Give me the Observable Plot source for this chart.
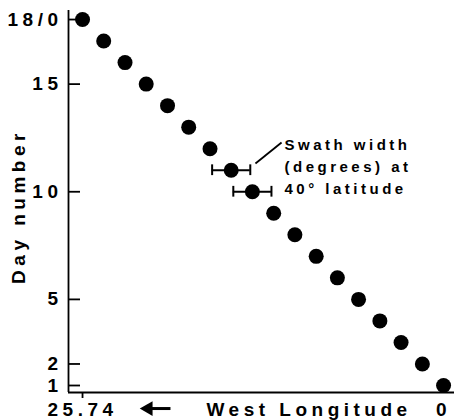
<!DOCTYPE html>
<html>
<head>
<meta charset="utf-8">
<script src="https://cdn.jsdelivr.net/npm/d3@7"></script>
<script src="https://cdn.jsdelivr.net/npm/@observablehq/plot@0.6"></script>
<style>
  html, body { margin: 0; padding: 0; background: #fff; }
</style>
</head>
<body>
<div id="chart"></div>
<script>
const days = [18, 17, 16, 15, 14, 13, 12, 11, 10, 9, 8, 7, 6, 5, 4, 3, 2, 1];
const longitudes = [25.74, 24.23, 22.71, 21.20, 19.68, 18.17, 16.65, 15.14, 13.63, 12.11, 10.60, 9.08, 7.57, 6.06, 4.54, 3.03, 1.51, 0];
const swathDays = [11, 10];
const swathLongitudes = [15.14, 13.63];
const swathHalfWidths = [1.36, 1.36];
const yTicks = [1, 2, 5, 10, 15, 18];
const yTickLabels = ["1", "2", "5", "10", "15", "18/0"];
const xTicks = [25.74, 0];
const xTickLabels = ["25.74", "0"];
const yLabel = "Day number";
const xLabel = "West Longitude";
const noteLines = ["Swath width", "(degrees) at", "40° latitude"];

const points = days.map((d, i) => ({day: d, lon: longitudes[i]}));
const swaths = swathDays.map((d, i) => ({day: d, lon: swathLongitudes[i], hw: swathHalfWidths[i]}));
const swathEnds = swaths.flatMap(s => [{day: s.day, lon: s.lon - s.hw}, {day: s.day, lon: s.lon + s.hw}]);

const xDomain = [26.74, -0.78];
const yDomain = [0.675, 18.42];
const font = "'Liberation Sans', Arial, Helvetica, sans-serif";

const chart = Plot.plot({
  width: 454,
  height: 420,
  marginLeft: 68,
  marginRight: 0,
  marginTop: 10,
  marginBottom: 28,
  style: {fontFamily: font, fontWeight: "bold", color: "#000", background: "#fff"},
  x: {domain: xDomain, axis: null},
  y: {domain: yDomain, axis: null},
  marks: [
    Plot.ruleX([xDomain[0]], {stroke: "#000", strokeWidth: 1.8}),
    Plot.ruleY([yDomain[0]], {stroke: "#000", strokeWidth: 1.8}),
    // inward-pointing y ticks (12px long, from the axis line)
    Plot.tickY(yTicks, {y: d => d, insetRight: 454 - 68 - 12, stroke: "#000", strokeWidth: 1.8}),
    Plot.axisY({
      ticks: yTicks,
      tickFormat: d => yTickLabels[yTicks.indexOf(d)],
      tickSize: 0,
      tickPadding: 6,
      fontSize: 19,
      fontWeight: "bold",
      label: null
    }),
    Plot.axisX({
      ticks: [xTicks[0]],
      tickFormat: () => "",
      tickSize: 6,
      strokeWidth: 1.8,
      label: null
    }),
    Plot.axisX({
      ticks: xTicks,
      tickFormat: d => xTickLabels[xTicks.indexOf(d)],
      tickSize: 0,
      tickPadding: 10,
      fontSize: 19,
      fontWeight: "bold",
      label: null
    }),
    // arrow pointing toward the 25.74 end: shaft + filled head
    Plot.link([0], {x1: 19.47, x2: 21.0, y1: -0.07, y2: -0.07, stroke: "#000", strokeWidth: 3}),
    Plot.dot([0], {x: 21.05, y: -0.07, symbol: "triangle", rotate: -90, r: 5.5, fill: "#000", stroke: null}),
    Plot.text([xLabel], {frameAnchor: "bottom-left", dx: 138, dy: 17, fontSize: 19, fontWeight: "bold", textAnchor: "start", lineAnchor: "middle"}),
    Plot.text([yLabel], {frameAnchor: "left", dx: -50, dy: 5, rotate: -90, fontSize: 19, fontWeight: "bold", textAnchor: "middle", lineAnchor: "middle"}),
    Plot.ruleY(swaths, {y: "day", x1: d => d.lon - d.hw, x2: d => d.lon + d.hw, stroke: "#000", strokeWidth: 2}),
    Plot.ruleX(swathEnds, {x: "lon", y1: d => d.day - 0.25, y2: d => d.day + 0.25, stroke: "#000", strokeWidth: 2}),
    Plot.dot(points, {x: "lon", y: "day", r: 7.5, fill: "#000", stroke: null}),
    Plot.link([0], {x1: 13.41, y1: 11.31, x2: 11.55, y2: 12.29, stroke: "#000", strokeWidth: 1.8}),
    Plot.text([noteLines.join("\n")], {x: 11.34, y: 11.26, textAnchor: "start", lineAnchor: "middle", lineHeight: 1.47, fontSize: 15, fontWeight: "bold"})
  ]
});

d3.select(chart).selectAll("text").attr("letter-spacing", "4.5px");
d3.select(chart).selectAll("text").filter(function () { return this.textContent.includes("Swath"); }).attr("letter-spacing", "3.5px");

document.getElementById("chart").appendChild(chart);
</script>
</body>
</html>
